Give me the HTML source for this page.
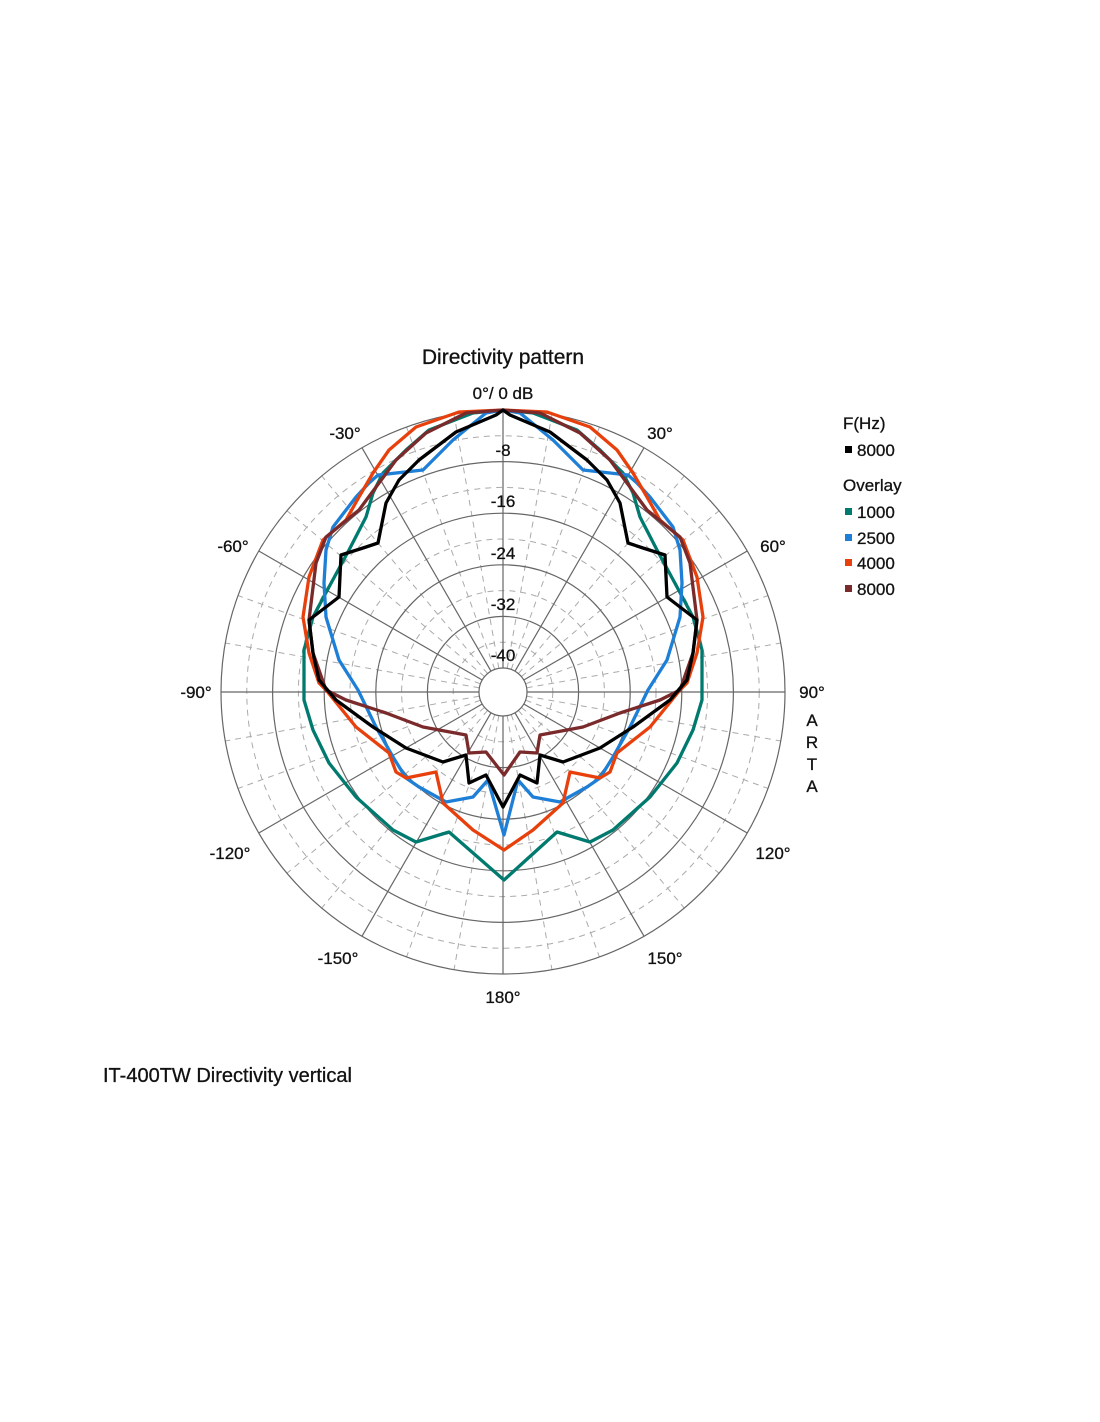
<!DOCTYPE html>
<html><head><meta charset="utf-8"><style>
body{margin:0;background:#fff;}
svg{display:block;font-family:"Liberation Sans",Arial,sans-serif;}
</style></head><body>
<svg id="s" width="1100" height="1422" viewBox="0 0 1100 1422" xmlns="http://www.w3.org/2000/svg">
<g id="grid"></g>
<g id="curves" fill="none" stroke-width="3.3" stroke-linejoin="round"></g>
<g font-size="17" fill="#111" text-anchor="middle" stroke="#111" stroke-width="0.3">
<text x="503" y="364" font-size="21">Directivity pattern</text>
<text x="503" y="399">0°/ 0 dB</text>
<text x="503" y="456">-8</text>
<text x="503" y="507">-16</text>
<text x="503" y="559">-24</text>
<text x="503" y="610">-32</text>
<text x="503" y="661">-40</text>
<text x="660" y="439">30°</text>
<text x="345" y="439">-30°</text>
<text x="773" y="552">60°</text>
<text x="233" y="552">-60°</text>
<text x="812" y="698">90°</text>
<text x="196" y="698">-90°</text>
<text x="773" y="859">120°</text>
<text x="230" y="859">-120°</text>
<text x="665" y="964">150°</text>
<text x="338" y="964">-150°</text>
<text x="503" y="1003">180°</text>
<text x="812" y="726">A</text>
<text x="812" y="748">R</text>
<text x="812" y="770">T</text>
<text x="812" y="792">A</text>
</g>
<g font-size="17" fill="#111" stroke="#111" stroke-width="0.3">
<text x="843" y="429">F(Hz)</text>
<rect x="845" y="446" width="7" height="7" fill="#000" stroke="none"/><text x="857" y="456">8000</text>
<text x="843" y="491">Overlay</text>
<rect x="845" y="508" width="7" height="7" fill="#007a6e" stroke="none"/><text x="857" y="518">1000</text>
<rect x="845" y="534" width="7" height="7" fill="#1e7fd6" stroke="none"/><text x="857" y="544">2500</text>
<rect x="845" y="559" width="7" height="7" fill="#e8400c" stroke="none"/><text x="857" y="569">4000</text>
<rect x="845" y="585" width="7" height="7" fill="#7a2a2a" stroke="none"/><text x="857" y="595">8000</text>
<text x="103" y="1082" font-size="20">IT-400TW Directivity vertical</text>
</g>
</svg>
<script>
var cx=503,cy=692,NS="http://www.w3.org/2000/svg";
var g=document.getElementById('grid');
function el(t,a,p){var e=document.createElementNS(NS,t);for(var k in a)e.setAttribute(k,a[k]);(p||g).appendChild(e);return e;}
var R=[282,230.4,178.8,127.2,75.6,24];
for(var i=0;i<5;i++){el('circle',{cx:cx,cy:cy,r:(R[i]+R[i+1])/2,fill:'none',stroke:'#aaa','stroke-width':1,'stroke-dasharray':'6,5'});}
for(var a=0;a<360;a+=10){if(a%30==0)continue;var t=a*Math.PI/180;
el('line',{x1:cx+24*Math.sin(t),y1:cy-24*Math.cos(t),x2:cx+282*Math.sin(t),y2:cy-282*Math.cos(t),stroke:'#aaa','stroke-width':1,'stroke-dasharray':'6,5'});}
for(var a=0;a<360;a+=30){var t=a*Math.PI/180;
el('line',{x1:cx+24*Math.sin(t),y1:cy-24*Math.cos(t),x2:cx+282*Math.sin(t),y2:cy-282*Math.cos(t),stroke:'#666','stroke-width':1.2});}
R.forEach(function(r){el('circle',{cx:cx,cy:cy,r:r,fill:'none',stroke:'#666','stroke-width':1.2});});
var C={
'#007a6e':[[503,410],[533,413],[577,430],[600,450],[623,473],[633,493],[640,517],[657,550],[677,587],[693,617],[702,650],[702,700],[693,730],[677,763],[650,797],[613,830],[590,842],[557,832],[504,880]],
'#1e7fd6':[[503,410],[520,413],[553,440],[583,470],[628,475],[637,483],[650,497],[673,527],[680,550],[682,583],[680,617],[667,660],[648,690],[630,727],[613,757],[600,778],[587,787],[560,802],[533,797],[518,780],[504,835]],
'#e8400c':[[503,410],[547,412],[590,427],[617,450],[633,473],[647,497],[660,520],[683,540],[697,577],[703,617],[697,653],[687,683],[680,690],[650,727],[617,753],[610,772],[600,778],[570,772],[563,803],[533,830],[504,850]],
'#7a2a2a':[[503,410],[540,413],[580,433],[610,460],[627,483],[647,510],[680,537],[690,563],[697,620],[693,653],[680,690],[660,700],[620,713],[583,727],[540,735],[537,753],[520,752],[504,775]],
'#000':[[503,410],[510,415],[550,432],[587,460],[607,480],[620,503],[628,543],[643,548],[665,555],[667,597],[680,607],[697,620],[693,653],[687,680],[670,700],[633,727],[600,748],[563,762],[540,755],[537,783],[520,775],[503,807]]
};
var cg=document.getElementById('curves');
for(var col in C){var p=C[col],pts=p.map(function(q){return q.join(',')});
var back=p.slice(0,-1).reverse().map(function(q){return (2*cx-q[0])+','+q[1]});
el('polygon',{points:pts.concat(back).join(' '),stroke:col},cg);}
</script>
</body></html>
